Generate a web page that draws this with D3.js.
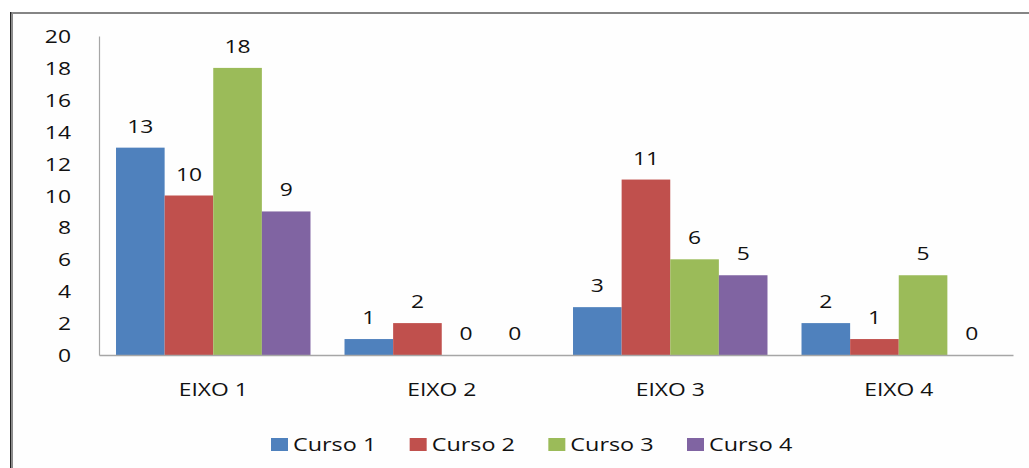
<!DOCTYPE html>
<html><head><meta charset="utf-8">
<script src="https://cdn.jsdelivr.net/npm/d3@7"></script>
<style>
html,body{margin:0;padding:0;background:#fff;}
text{font-family:"Open Sans",sans-serif;fill:#111;}
</style></head>
<body>
<svg id="c" width="1029" height="468"></svg>
<script>
const categories = ["EIXO 1","EIXO 2","EIXO 3","EIXO 4"];
const seriesNames = ["Curso 1","Curso 2","Curso 3","Curso 4"];
const curso1 = [13, 1, 3, 2];
const curso2 = [10, 2, 11, 1];
const curso3 = [18, 0, 6, 5];
const curso4 = [9, 0, 5, 0];
const yTicks = [0,2,4,6,8,10,12,14,16,18,20];
const colors = ["#4F81BD","#C0504D","#9BBB59","#8064A2"];
const seriesValues = [curso1, curso2, curso3, curso4];

const svg = d3.select("#c");
const W = 1029, H = 468;
const SX = 1.27; // horizontal text stretch
const fs = 18;

// frame
svg.append("rect").attr("x",12).attr("y",14).attr("width",W-12).attr("height",H-14).attr("fill","#fefefe");
svg.append("rect").attr("x",10).attr("y",12).attr("width",W-10).attr("height",2).attr("fill","#858585");
svg.append("rect").attr("x",10).attr("y",12).attr("width",1.5).attr("height",H-12).attr("fill","#222");
svg.append("rect").attr("x",11.5).attr("y",12).attr("width",1.5).attr("height",H-12).attr("fill","#8a8a8a");

const plot = {left:99, right:1013, top:36, bottom:355};
const x0 = d3.scaleBand().domain(categories).range([plot.left, plot.right]).paddingInner(0).paddingOuter(0);
const x1 = d3.scaleBand().domain(seriesNames).range([0, x0.bandwidth()]).paddingInner(0).paddingOuter(0.35);
const y = d3.scaleLinear().domain([0,20]).range([plot.bottom, plot.top]);

function stext(g, x, yy, t, anchor, sx){
  return g.append("text")
    .attr("transform", `translate(${x},${yy}) scale(${sx||SX},1)`)
    .attr("text-anchor", anchor||"middle")
    .attr("font-size", fs)
    .text(t);
}

// y axis
const yAxis = d3.axisLeft(y).tickValues(yTicks).tickSize(0).tickPadding(0);
const yg = svg.append("g").attr("transform",`translate(${plot.left},0)`).call(yAxis);
yg.select(".domain").attr("stroke","#a6a6a6").attr("stroke-width",1.2);
yg.selectAll(".tick text").remove();
yg.selectAll(".tick").each(function(d){
  stext(d3.select(this), -28, 6.5, d, "end");
});

// bars
const groups = svg.append("g").selectAll("g").data(categories).join("g")
  .attr("transform", d => `translate(${x0(d)},0)`);
groups.each(function(cat, ci){
  const g = d3.select(this);
  seriesNames.forEach((s, si) => {
    const v = seriesValues[si][ci];
    g.append("rect")
      .attr("x", x1(s)).attr("width", x1.bandwidth())
      .attr("y", y(v)).attr("height", y(0)-y(v))
      .attr("fill", colors[si]);
    stext(g, x1(s)+x1.bandwidth()/2, y(v)-15, v, "middle");
  });
});

// x axis
const xAxis = d3.axisBottom(x0).tickSize(0).tickPadding(0);
const xg = svg.append("g").attr("transform",`translate(0,${plot.bottom})`).call(xAxis);
xg.select(".domain").attr("stroke","#a6a6a6").attr("stroke-width",1.5);
xg.selectAll(".tick text").remove();
xg.selectAll(".tick").each(function(d){
  stext(d3.select(this), 0, 41, d, "middle");
});

// legend
const legX = d3.scalePoint().domain(seriesNames).range([271, 687]);
const lg = svg.append("g");
seriesNames.forEach((s, i) => {
  lg.append("rect").attr("x", legX(s)).attr("y", 438).attr("width", 17).attr("height", 13).attr("fill", colors[i]);
  stext(lg, legX(s)+22, 451, s, "start", 1.3);
});
</script>
</body></html>
